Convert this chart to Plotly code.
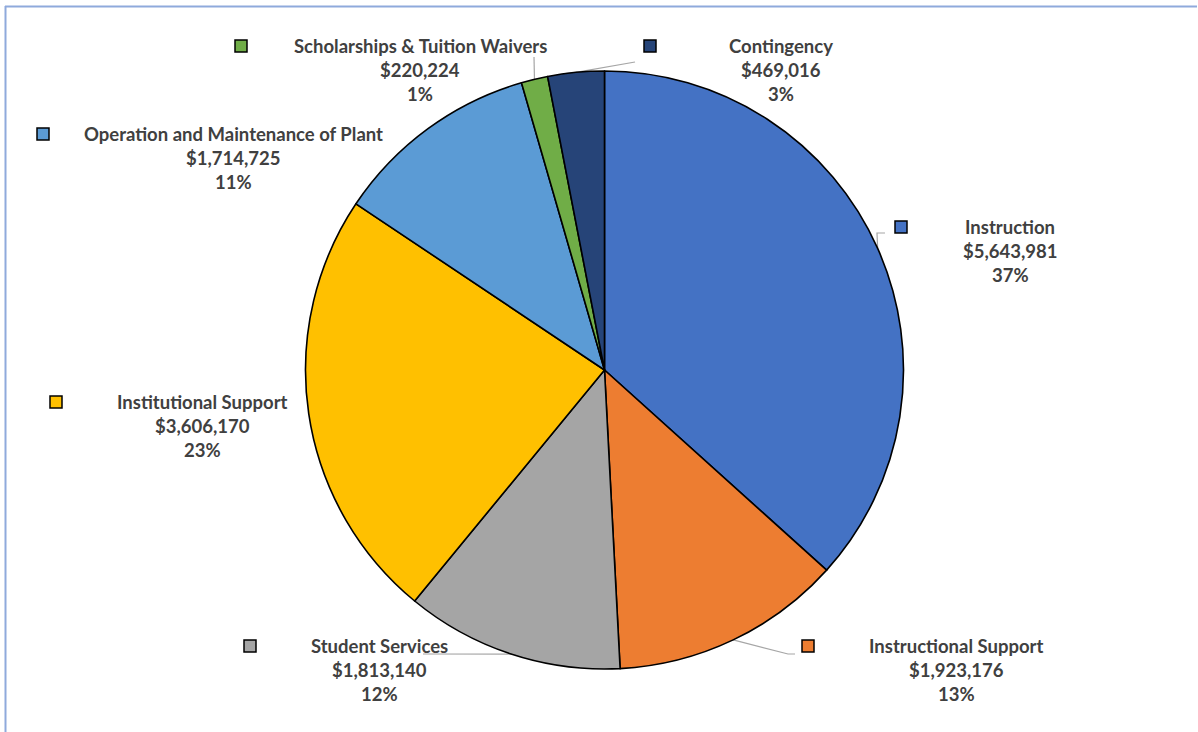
import math
import plotly.graph_objects as go

# ---- data ----
categories = ["Instruction", "Instructional Support", "Student Services",
              "Institutional Support", "Operation and Maintenance of Plant",
              "Scholarships & Tuition Waivers", "Contingency"]
amounts = [5643981, 1923176, 1813140, 3606170, 1714725, 220224, 469016]
pct_labels = ["37%", "13%", "12%", "23%", "11%", "1%", "3%"]
colors = ["#4472C4", "#ED7D31", "#A5A5A5", "#FFC000", "#5B9BD5", "#70AD47", "#264478"]

W, H = 1198, 732
CX, CY, R = 604.5, 370, 299

# label layout (pixel positions): text center x, first line y, legend square x
label_pos = {
    "Instruction": (1010, 227, 901),
    "Instructional Support": (956, 646, 808),
    "Student Services": (379, 646, 250),
    "Institutional Support": (202, 402, 56),
    "Operation and Maintenance of Plant": (233, 134, 43),
    "Scholarships & Tuition Waivers": (420, 46, 241),
    "Contingency": (781, 46, 650),
}
# leader line elbow points (pixel) per category
leader_pts = {
    "Instruction": [(877, 233), (885, 233)],
    "Instructional Support": [(788, 654), (795, 654)],
    "Student Services": [(423, 654)],
    "Scholarships & Tuition Waivers": [(534, 57)],
    "Contingency": [(635, 62)],
}


def px(x):
    return x / W


def py(y):
    return 1 - y / H


fig = go.Figure(go.Pie(
    labels=categories, values=amounts, sort=False, direction="clockwise",
    rotation=0, textinfo="none", hoverinfo="label+value+percent",
    marker=dict(colors=colors, line=dict(color="black", width=1.6)),
    domain=dict(x=[px(CX - R), px(CX + R)], y=[py(CY + R), py(CY - R)]),
    showlegend=False,
))

shapes = []
annotations = []
total = sum(amounts)
cum = 0
font = dict(family="Lato", size=18.5, color="#404040", weight="bold")
for cat, amt, pct, col in zip(categories, amounts, pct_labels, colors):
    mid = (cum + amt / 2) / total * 2 * math.pi
    cum += amt
    ex = CX + R * math.sin(mid)
    ey = CY - R * math.cos(mid)
    tx, ty, sx = label_pos[cat]
    lines = [cat, "${:,}".format(amt), pct]
    for i, t in enumerate(lines):
        annotations.append(dict(x=px(tx), y=py(ty + 24 * i), xref="paper", yref="paper",
                                text=t, showarrow=False, font=font,
                                xanchor="center", yanchor="middle"))
    shapes.append(dict(type="rect", xref="paper", yref="paper",
                       x0=px(sx - 6), x1=px(sx + 6), y0=py(ty - 6), y1=py(ty + 6),
                       fillcolor=col, line=dict(color="black", width=1.5)))
    if cat in leader_pts:
        pts = [(ex, ey)] + leader_pts[cat]
        path = "M " + " L ".join("{:.5f},{:.5f}".format(px(a), py(b)) for a, b in pts)
        shapes.append(dict(type="path", xref="paper", yref="paper", path=path,
                           line=dict(color="#A6A6A6", width=1.2), layer="below"))

# outer frame (top and left edges)
shapes.append(dict(type="line", xref="paper", yref="paper", x0=px(5), x1=px(1197),
                   y0=py(6.5), y1=py(6.5), line=dict(color="#8FAADC", width=2)))
shapes.append(dict(type="line", xref="paper", yref="paper", x0=px(5.5), x1=px(5.5),
                   y0=py(6), y1=0, line=dict(color="#8FAADC", width=2)))

fig.update_layout(width=W, height=H, margin=dict(l=0, r=0, t=0, b=0),
                  paper_bgcolor="white", plot_bgcolor="white",
                  shapes=shapes, annotations=annotations)
fig.write_html("out.html")
